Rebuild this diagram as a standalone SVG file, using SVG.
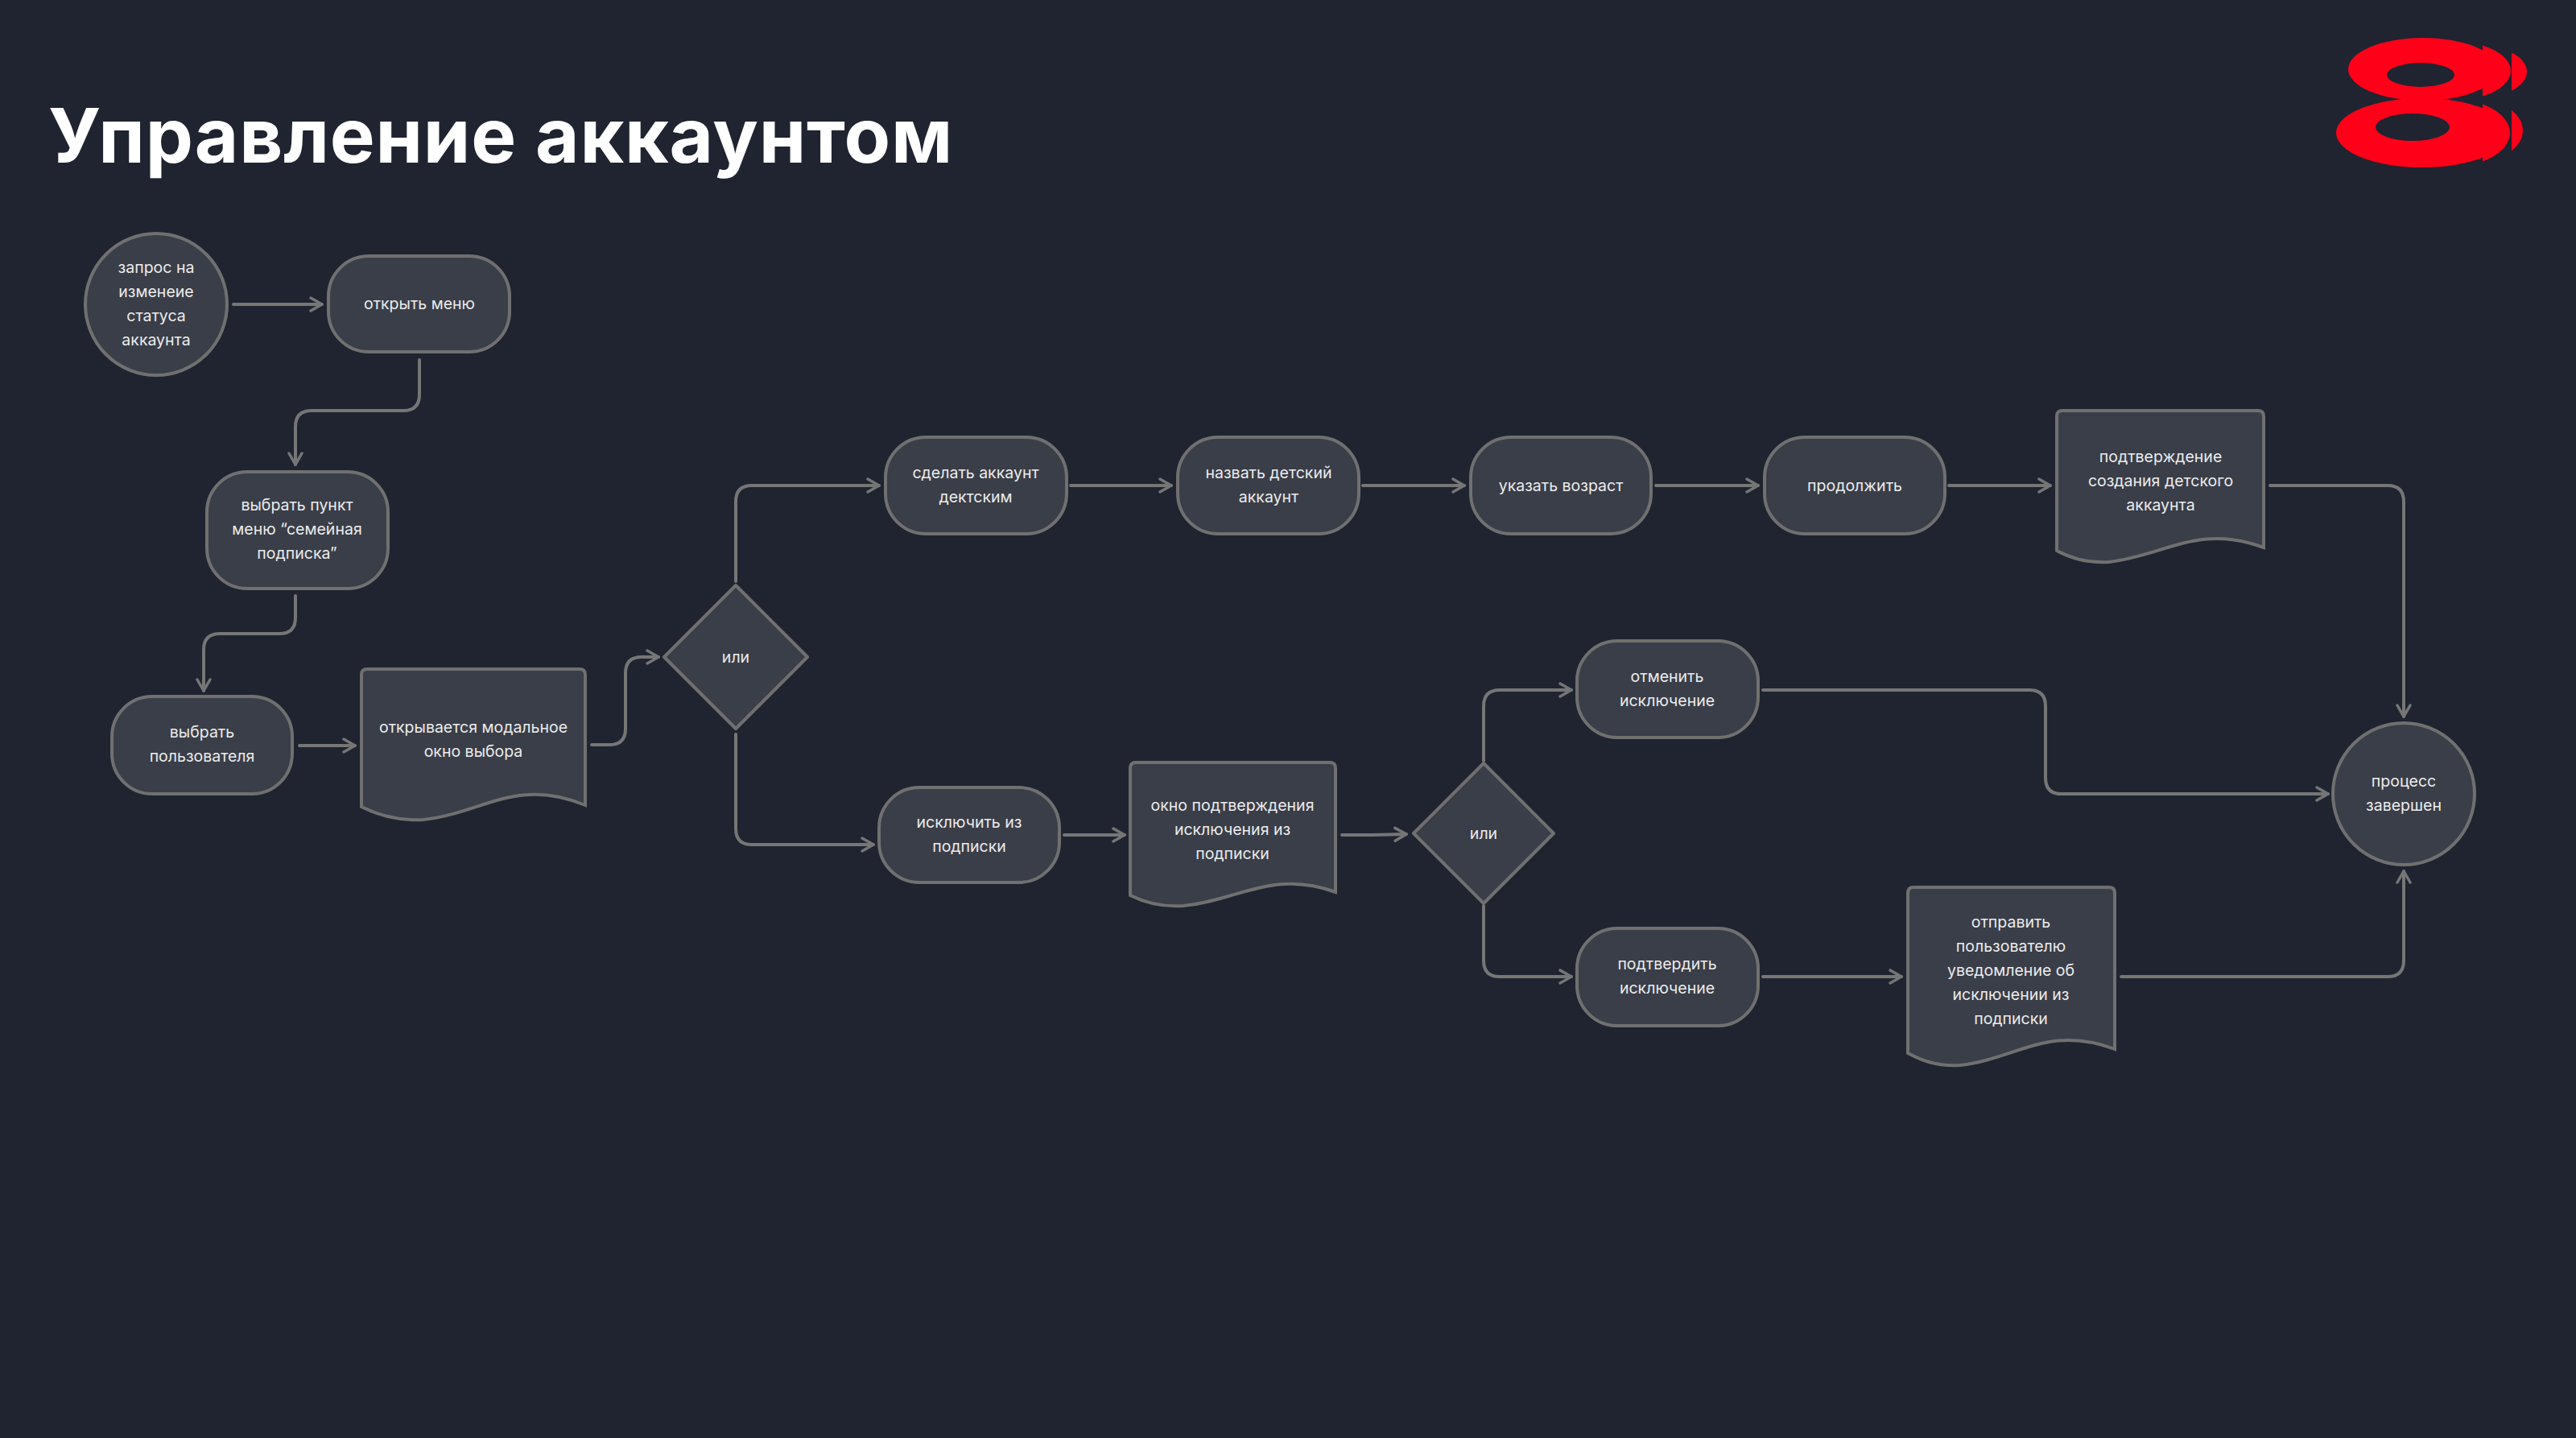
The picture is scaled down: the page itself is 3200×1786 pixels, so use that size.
<svg xmlns="http://www.w3.org/2000/svg" width="3200" height="1786" viewBox="0 0 3200 1786">
<style>
.n{fill:#3a3e48;stroke:#707070;stroke-width:4}
.t{fill:#ececec;font-family:Inter,"Liberation Sans",sans-serif;font-size:19.5px;text-anchor:middle}
.c{fill:none;stroke:#767676;stroke-width:4;stroke-linecap:round;stroke-linejoin:round}
.title{fill:#fff;font-family:Inter,"Liberation Sans",sans-serif;font-weight:700;font-size:94px;letter-spacing:0.8px}
</style>
<defs>
<marker id="a" viewBox="0 0 20 20" refX="17" refY="10" markerWidth="20" markerHeight="20" markerUnits="userSpaceOnUse" orient="auto">
<path d="M3,2 L17,10 L3,18" fill="none" stroke="#767676" stroke-width="3.5" stroke-linecap="round" stroke-linejoin="round"/>
</marker>
<clipPath id="k0"><rect x="2890" y="40" width="194" height="180"/></clipPath>
<clipPath id="k1"><rect x="3084" y="40" width="36" height="180"/></clipPath>
<clipPath id="k2"><rect x="3120" y="40" width="30" height="180"/></clipPath>
</defs>
<rect width="3200" height="1786" fill="#1f2430"/>
<text class="title" x="60" y="202">Управление аккаунтом</text>
<g id="logo" fill="#ff0019" fill-rule="evenodd">
<g clip-path="url(#k0)">
<path d="M2917,86 a93,39 0 1,0 186,0 a93,39 0 1,0 -186,0 Z M2965,93 a42,15 0 1,0 84,0 a42,15 0 1,0 -84,0 Z"/>
<path d="M2902,165 a107,43 0 1,0 214,0 a107,43 0 1,0 -214,0 Z M2951,158 a46,17 0 1,0 92,0 a46,17 0 1,0 -92,0 Z"/>
</g>
<g clip-path="url(#k1)">
<ellipse cx="3045" cy="88" rx="74" ry="37"/>
<ellipse cx="3040" cy="165" rx="78" ry="43"/>
</g>
<g clip-path="url(#k2)">
<ellipse cx="3085" cy="89" rx="54" ry="31"/>
<ellipse cx="3085" cy="162" rx="49" ry="36"/>
</g>
</g>
<g id="connectors">
<path class="c" marker-end="url(#a)" d="M290,378 H400"/>
<path class="c" marker-end="url(#a)" d="M521,447 V490 Q521,510 501,510 H387 Q367,510 367,530 V577"/>
<path class="c" marker-end="url(#a)" d="M367,740 V767 Q367,787 347,787 H273 Q253,787 253,807 V858"/>
<path class="c" marker-end="url(#a)" d="M372,926 H441"/>
<path class="c" marker-end="url(#a)" d="M735,925 H757 Q777,925 777,905 V836 Q777,816 797,816 H818"/>
<path class="c" marker-end="url(#a)" d="M914,722 V623 Q914,603 934,603 H1092"/>
<path class="c" marker-end="url(#a)" d="M914,912 V1029 Q914,1049 934,1049 H1085"/>
<path class="c" marker-end="url(#a)" d="M1330,603 H1455"/>
<path class="c" marker-end="url(#a)" d="M1693,603 H1819"/>
<path class="c" marker-end="url(#a)" d="M2057,603 H2184"/>
<path class="c" marker-end="url(#a)" d="M2421,603 H2547"/>
<path class="c" marker-end="url(#a)" d="M2820,603 H2966 Q2986,603 2986,623 V890"/>
<path class="c" marker-end="url(#a)" d="M1322,1037 H1397"/>
<path class="c" marker-end="url(#a)" d="M1667,1037 H1705 L1747,1036"/>
<path class="c" marker-end="url(#a)" d="M1843,945 V877 Q1843,857 1863,857 H1952"/>
<path class="c" marker-end="url(#a)" d="M1843,1125 V1193 Q1843,1213 1863,1213 H1952"/>
<path class="c" marker-end="url(#a)" d="M2190,857 H2521 Q2541,857 2541,877 V966 Q2541,986 2561,986 H2892"/>
<path class="c" marker-end="url(#a)" d="M2190,1213 H2362"/>
<path class="c" marker-end="url(#a)" d="M2635,1213 H2966 Q2986,1213 2986,1193 V1082"/>
</g>
<g id="start"><circle class="n" cx="194" cy="378" r="88"/><text class="t"><tspan x="194" y="339">запрос на</tspan><tspan x="194" y="369">изменеие</tspan><tspan x="194" y="399">статуса</tspan><tspan x="194" y="429">аккаунта</tspan></text></g>
<g id="open-menu"><rect class="n" x="408" y="318" width="225" height="119" rx="50"/><text class="t" x="521" y="384">открыть меню</text></g>
<g id="select-item"><rect class="n" x="257" y="586" width="225" height="145" rx="50"/><text class="t"><tspan x="369" y="634">выбрать пункт</tspan><tspan x="369" y="664">меню “семейная</tspan><tspan x="369" y="694">подписка”</tspan></text></g>
<g id="select-user"><rect class="n" x="139" y="865" width="224" height="121" rx="50"/><text class="t"><tspan x="251" y="916">выбрать</tspan><tspan x="251" y="946">пользователя</tspan></text></g>
<g id="modal"><path class="n" d="M449,838 Q449,831 456,831 H720 Q727,831 727,838 V1000 C640,965 600,1010 526,1018 C490,1020 465,1010 449,1002 Z"/><text class="t"><tspan x="588" y="910">открывается модальное</tspan><tspan x="588" y="940">окно выбора</tspan></text></g>
<g id="or1"><path class="n" d="M914,727 L1003,816 L914,905 L825,816 Z" stroke-linejoin="round"/><text class="t" x="914" y="823">или</text></g>
<g id="make-child"><rect class="n" x="1100" y="543" width="225" height="120" rx="50"/><text class="t"><tspan x="1212" y="594">сделать аккаунт</tspan><tspan x="1212" y="624">дектским</tspan></text></g>
<g id="name-child"><rect class="n" x="1463" y="543" width="225" height="120" rx="50"/><text class="t"><tspan x="1576" y="594">назвать детский</tspan><tspan x="1576" y="624">аккаунт</tspan></text></g>
<g id="age"><rect class="n" x="1827" y="543" width="224" height="120" rx="50"/><text class="t" x="1939" y="610">указать возраст</text></g>
<g id="continue"><rect class="n" x="2192" y="543" width="224" height="120" rx="50"/><text class="t" x="2304" y="610">продолжить</text></g>
<g id="confirm-child"><path class="n" d="M2555,517 Q2555,510 2562,510 H2805 Q2812,510 2812,517 V680 C2730,650 2690,690 2620,698 C2590,700 2570,692 2555,684 Z"/><text class="t"><tspan x="2684" y="574">подтверждение</tspan><tspan x="2684" y="604">создания детского</tspan><tspan x="2684" y="634">аккаунта</tspan></text></g>
<g id="end"><circle class="n" cx="2986" cy="986" r="88"/><text class="t"><tspan x="2986" y="977">процесс</tspan><tspan x="2986" y="1007">завершен</tspan></text></g>
<g id="exclude"><rect class="n" x="1092" y="978" width="224" height="118" rx="50"/><text class="t"><tspan x="1204" y="1028">исключить из</tspan><tspan x="1204" y="1058">подписки</tspan></text></g>
<g id="confirm-window"><path class="n" d="M1404,954 Q1404,947 1411,947 H1652 Q1659,947 1659,954 V1108 C1580,1080 1540,1118 1470,1125 C1440,1127 1420,1120 1404,1112 Z"/><text class="t"><tspan x="1531" y="1007">окно подтверждения</tspan><tspan x="1531" y="1037">исключения из</tspan><tspan x="1531" y="1067">подписки</tspan></text></g>
<g id="or2"><path class="n" d="M1843,948 L1930,1035 L1843,1122 L1756,1035 Z" stroke-linejoin="round"/><text class="t" x="1843" y="1042">или</text></g>
<g id="cancel"><rect class="n" x="1959" y="796" width="225" height="120" rx="50"/><text class="t"><tspan x="2071" y="847">отменить</tspan><tspan x="2071" y="877">исключение</tspan></text></g>
<g id="confirm-excl"><rect class="n" x="1959" y="1153" width="225" height="121" rx="50"/><text class="t"><tspan x="2071" y="1204">подтвердить</tspan><tspan x="2071" y="1234">исключение</tspan></text></g>
<g id="notify"><path class="n" d="M2370,1109 Q2370,1102 2377,1102 H2620 Q2627,1102 2627,1109 V1303 C2545,1272 2505,1315 2435,1323 C2405,1325 2385,1316 2370,1308 Z"/><text class="t"><tspan x="2498" y="1152">отправить</tspan><tspan x="2498" y="1182">пользователю</tspan><tspan x="2498" y="1212">уведомление об</tspan><tspan x="2498" y="1242">исключении из</tspan><tspan x="2498" y="1272">подписки</tspan></text></g>
</svg>
